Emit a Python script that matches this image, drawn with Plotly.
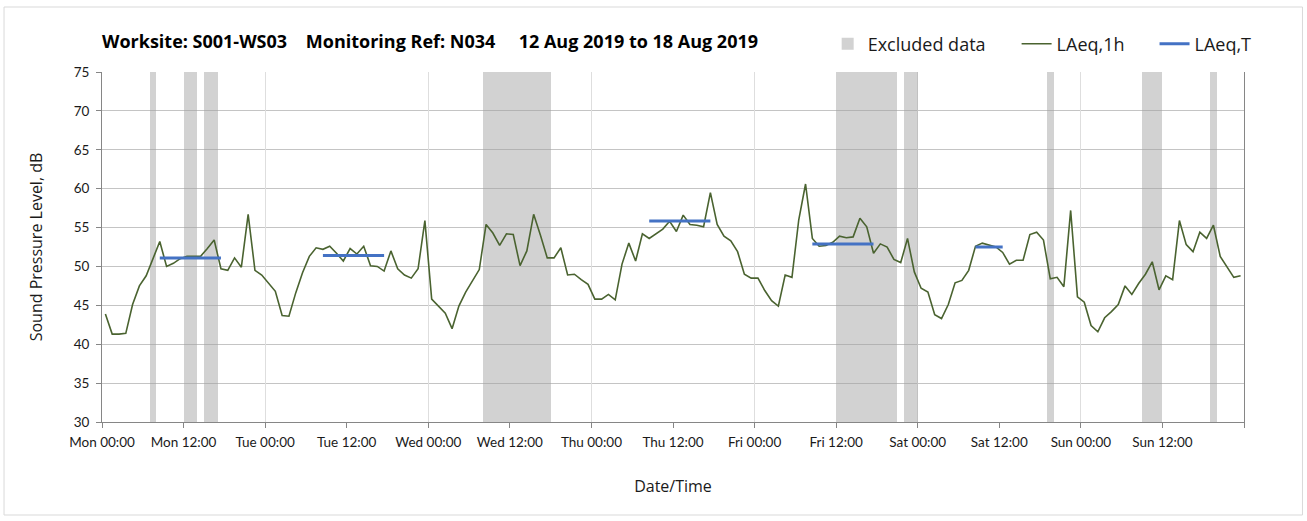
import datetime as dt
import plotly.graph_objects as go

# ---------------- data ----------------
start = dt.datetime(2019, 8, 12, 0, 0)

# hourly LAeq,1h values (dB), one per hour starting Mon 12 Aug 2019 00:00 (plotted at mid-hour)
laeq_1h = [
    43.9, 41.3, 41.3, 41.4, 45.1, 47.5, 48.8, 50.9, 53.2, 50.0, 50.4, 51.0,
    51.3, 51.3, 51.3, 52.3, 53.4, 49.7, 49.5, 51.1, 49.9, 56.7, 49.5, 48.9,
    47.8, 46.8, 43.7, 43.6, 46.6, 49.2, 51.3, 52.4, 52.2, 52.6, 51.7, 50.7,
    52.3, 51.6, 52.6, 50.1, 50.0, 49.4, 52.0, 49.7, 48.9, 48.5, 49.7, 55.9,
    45.8, 44.9, 44.0, 42.0, 44.9, 46.7, 48.1, 49.6, 55.4, 54.3, 52.7, 54.2,
    54.1, 50.1, 52.0, 56.7, 54.0, 51.1, 51.1, 52.4, 48.9, 49.0, 48.3, 47.7,
    45.8, 45.8, 46.4, 45.7, 50.3, 53.0, 50.7, 54.2, 53.6, 54.2, 54.8, 55.8,
    54.5, 56.6, 55.4, 55.3, 55.1, 59.5, 55.4, 53.9, 53.3, 51.9, 49.0, 48.5,
    48.5, 46.9, 45.6, 44.9, 48.9, 48.6, 56.0, 60.6, 53.6, 52.6, 52.7, 53.1,
    53.9, 53.7, 53.8, 56.2, 55.1, 51.7, 52.9, 52.5, 50.9, 50.5, 53.6, 49.3,
    47.2, 46.7, 43.8, 43.3, 45.1, 47.9, 48.2, 49.5, 52.6, 53.0, 52.7, 52.5,
    51.8, 50.3, 50.8, 50.8, 54.1, 54.4, 53.4, 48.4, 48.6, 47.4, 57.2, 46.1,
    45.4, 42.4, 41.6, 43.4, 44.2, 45.1, 47.5, 46.4, 47.8, 49.0, 50.6, 47.0,
    48.8, 48.3, 55.9, 52.8, 51.9, 54.4, 53.6, 55.3, 51.3, 50.0, 48.6, 48.8,
]

# excluded periods (hours since Mon 00:00)
excluded_start = [7, 12, 15, 56, 108, 118, 139, 153, 163]
excluded_end = [8, 14, 17, 66, 117, 120, 140, 156, 164]

# LAeq,T periods (hours since Mon 00:00) and levels
period_start = [8.5, 32.5, 80.5, 104.5, 128.5]
period_end = [17.5, 41.5, 89.5, 113.5, 132.5]
period_level = [51.1, 51.4, 55.85, 52.9, 52.5]

tick_hours = [0, 12, 24, 36, 48, 60, 72, 84, 96, 108, 120, 132, 144, 156, 168]
tick_labels = ["Mon 00:00", "Mon 12:00", "Tue 00:00", "Tue 12:00", "Wed 00:00",
               "Wed 12:00", "Thu 00:00", "Thu 12:00", "Fri 00:00", "Fri 12:00",
               "Sat 00:00", "Sat 12:00", "Sun 00:00", "Sun 12:00", ""]
grid_hours = [24, 48, 72, 96, 120, 144, 168]

title_text = "Worksite: S001-WS03&nbsp;&nbsp;&nbsp; Monitoring Ref: N034&nbsp;&nbsp;&nbsp;&nbsp; 12 Aug 2019 to 18 Aug 2019"

# ---------------- layout constants ----------------
W, H = 1307, 521
L, R, T, B = 102, 62.5, 72, 99
PW, PH = W - L - R, H - T - B


def paper_x(px):
    return (px - L) / PW


def paper_y(py):
    return (H - B - py) / PH


def t(h):
    return start + dt.timedelta(hours=h)


hour_x = [t(i + 0.5) for i in range(len(laeq_1h))]

fig = go.Figure()

# excluded data bands
fig.add_trace(go.Bar(
    x=[t((a + b) / 2) for a, b in zip(excluded_start, excluded_end)],
    y=[45] * len(excluded_start),
    base=[30] * len(excluded_start),
    width=[(b - a) * 3600 * 1000 for a, b in zip(excluded_start, excluded_end)],
    marker=dict(color="rgba(160,160,160,0.48)", line=dict(width=0)),
    name="Excluded data",
    hoverinfo="skip",
    legend="legend",
))

# hourly line
fig.add_trace(go.Scatter(
    x=hour_x, y=laeq_1h, mode="lines",
    line=dict(color="#4a6330", width=1.6),
    name="LAeq,1h", legend="legend2",
))

# LAeq,T segments
px_, py_ = [], []
for s, e, v in zip(period_start, period_end, period_level):
    px_ += [t(s), t(e), None]
    py_ += [v, v, None]
fig.add_trace(go.Scatter(
    x=px_, y=py_, mode="lines",
    line=dict(color="#4472c4", width=3),
    name="LAeq,T", connectgaps=False, legend="legend3",
))

# dummy trace for daily grid axis
fig.add_trace(go.Scatter(x=[t(0)], y=[None], xaxis="x2", showlegend=False,
                         hoverinfo="skip", mode="markers"))

tick_font = dict(family="Lato, Open Sans, sans-serif", size=13.5, color="#1a1a1a")
leg_font = dict(family="Open Sans, sans-serif", size=18, color="#1a1a1a")


def leg(xpx):
    return dict(orientation="h", x=paper_x(xpx), xanchor="left",
                y=paper_y(44), yanchor="middle", font=leg_font,
                bgcolor="rgba(0,0,0,0)", itemwidth=30)


fig.update_layout(
    width=W, height=H,
    margin=dict(l=L, r=R, t=T, b=B, autoexpand=False),
    paper_bgcolor="white", plot_bgcolor="white",
    barmode="overlay", bargap=0,
    title=dict(text="<b>" + title_text + "</b>",
               x=L / W, xanchor="left", xref="container",
               y=1 - 42 / H, yanchor="middle", yref="container",
               font=dict(family="Open Sans, sans-serif", size=18, color="#000")),
    legend=leg(828),
    legend2=leg(1017),
    legend3=leg(1155),
    xaxis=dict(
        type="date", range=[t(0), t(168)], automargin=False,
        tickvals=[t(h) for h in tick_hours], ticktext=tick_labels,
        tickfont=tick_font, ticks="outside", ticklen=5, tickcolor="#868686",
        ticklabelstandoff=3,
        showgrid=False, showline=True, linecolor="#868686", linewidth=1,
        zeroline=False,
        title=dict(text="Date/Time", standoff=31,
                   font=dict(family="Open Sans, sans-serif", size=16, color="#1a1a1a")),
    ),
    xaxis2=dict(
        type="date", overlaying="x", matches="x", range=[t(0), t(168)],
        tickvals=[t(h) for h in grid_hours], showticklabels=False, ticks="",
        showgrid=True, gridcolor="#dedede", gridwidth=1, showline=False, zeroline=False,
        automargin=False,
    ),
    yaxis=dict(
        range=[30, 75], dtick=5, tick0=30, automargin=False,
        tickfont=tick_font, ticks="outside", ticklen=5, tickcolor="#868686",
        ticklabelstandoff=4,
        showgrid=True, gridcolor="#c4c4c4", gridwidth=1,
        showline=True, linecolor="#868686", linewidth=1, mirror=True,
        zeroline=False,
        title=dict(text="Sound Pressure Level, dB", standoff=27,
                   font=dict(family="Open Sans, sans-serif", size=16, color="#1a1a1a")),
    ),
    shapes=[dict(type="rect", xref="paper", yref="paper",
                 x0=paper_x(4), x1=paper_x(1303),
                 y0=paper_y(515), y1=paper_y(7),
                 line=dict(color="#d9d9d9", width=1), fillcolor="rgba(0,0,0,0)",
                 layer="below")],
    showlegend=True,
)

fig.write_html("out.html",
               config={"displayModeBar": False},
               post_script="document.body.style.margin='0';document.body.style.padding='0';")
